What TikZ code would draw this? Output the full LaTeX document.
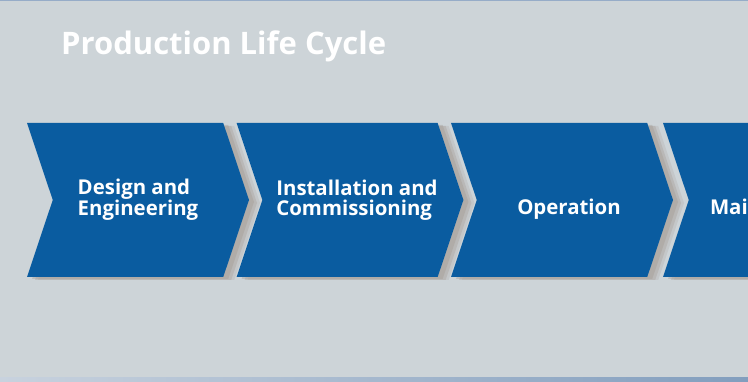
\documentclass[tikz,border=0pt]{standalone}
\usepackage{fontspec}
\setmainfont{Open Sans}
\usetikzlibrary{shapes.symbols,shadows,positioning}
\definecolor{bggray}{RGB}{205,212,216}
\definecolor{phaseblue}{RGB}{10,92,160}
\definecolor{shadowgray}{RGB}{160,150,142}
\definecolor{rimblue}{RGB}{150,172,200}
\definecolor{rimlight}{RGB}{200,210,222}
\definecolor{rimdark}{RGB}{130,158,190}

\begin{document}
\begin{tikzpicture}[x=1pt,y=-1pt,node distance=212pt,on grid,
  phase/.style={signal,signal from=west,signal to=east,signal pointer angle=143,
    minimum width=222pt,minimum height=154pt,inner sep=0pt,outer sep=0pt,
    fill=phaseblue,text=white,align=left,
    font=\fontsize{20.4}{20}\selectfont\bfseries,
    drop shadow={shadow xshift=11pt,shadow yshift=-3pt,fill=shadowgray,opacity=.2},
    drop shadow={shadow xshift=8pt,shadow yshift=-3pt,fill=shadowgray,opacity=.3},
    drop shadow={shadow xshift=5pt,shadow yshift=-2pt,fill=shadowgray,opacity=.35}},
  oneline/.style={text height=35pt,text depth=5pt},
  heading/.style={text=white,inner sep=0pt,font=\fontsize{31}{31}\selectfont\bfseries}]
  \useasboundingbox (0,0) rectangle (748,382);
  \clip (0,0) rectangle (748,382);
  \fill[bggray] (0,0) rectangle (748,382);
  \fill[rimblue] (0,0) rectangle (748,1.5);
  \shade[left color=rimlight,right color=rimdark] (0,378) rectangle (748,382);

  \node[heading,anchor=base west] (title) at (61,55) {Production Life Cycle};

  \node[phase] (p1) at (138,200) {Design and\\Engineering};
  \node[phase,right=of p1] (p2) {\hspace*{14pt}Installation and\\\hspace*{14pt}Commissioning};
  \node[phase,oneline,right=of p2] (p3) {\hspace*{14pt}Operation};
  \node[phase,oneline,right=of p3] (p4) {\makebox[128pt][l]{Mai}};
\end{tikzpicture}
\end{document}
